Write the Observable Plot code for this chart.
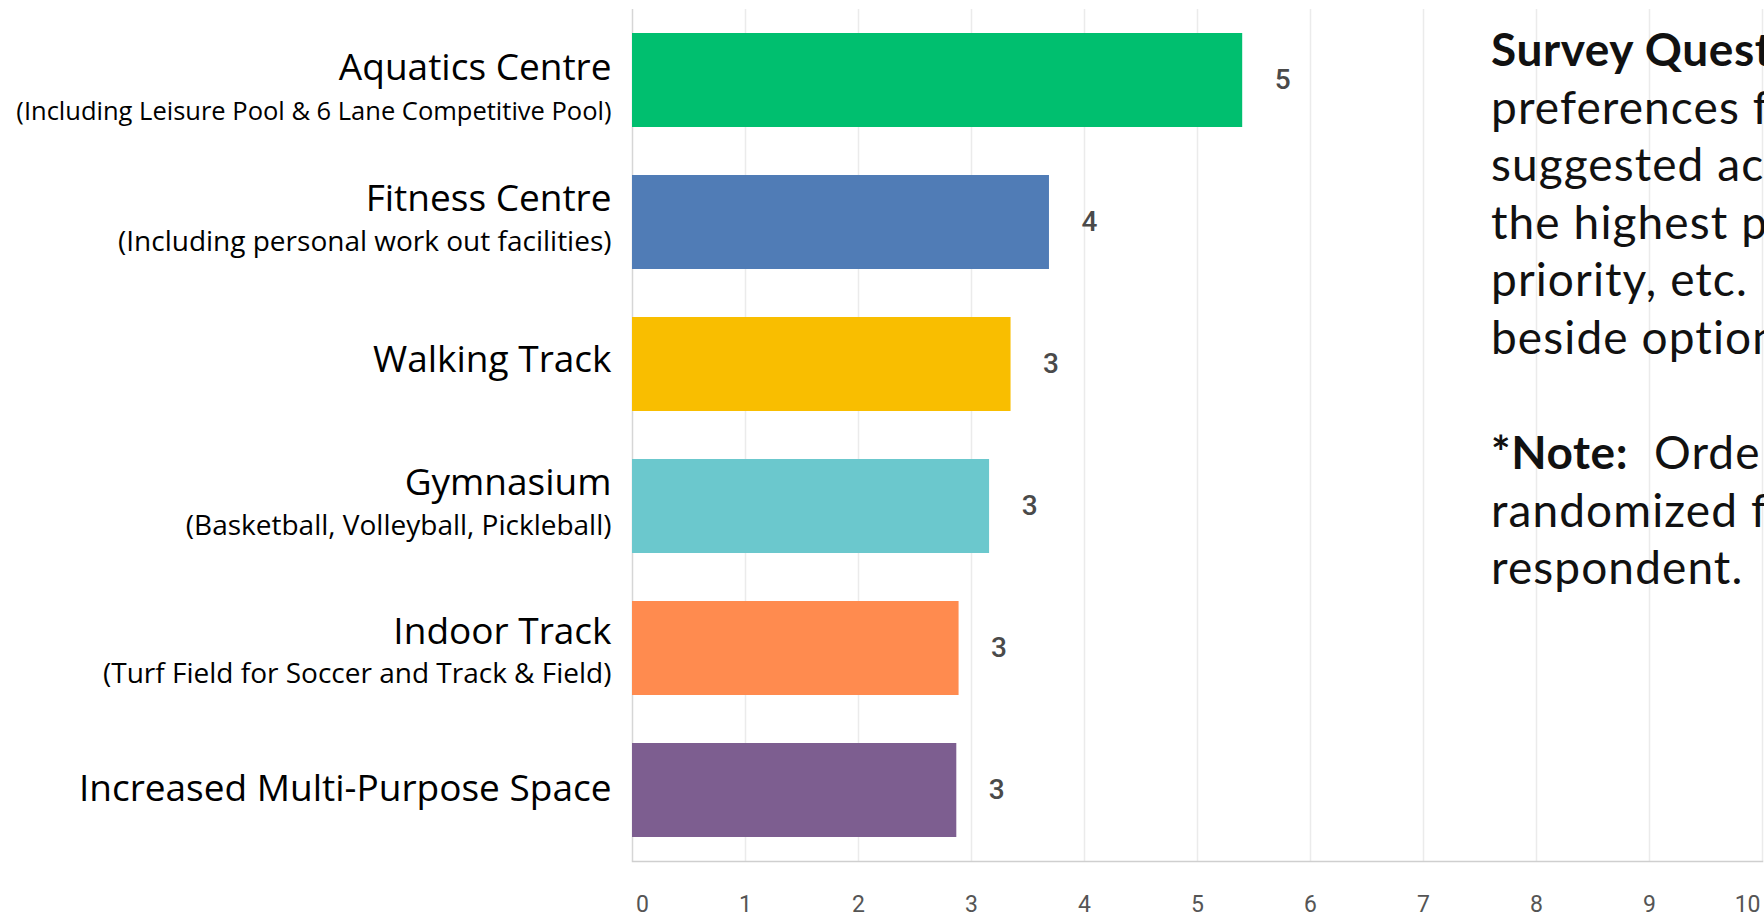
<!DOCTYPE html>
<html><head><meta charset="utf-8">
<script src="https://cdn.jsdelivr.net/npm/d3@7"></script>
<script src="https://cdn.jsdelivr.net/npm/@observablehq/plot@0.6"></script>
<style>
html,body{margin:0;padding:0;background:#fff;overflow:hidden;width:1764px;height:917px}
#wrap{position:relative;width:1764px;height:917px;overflow:hidden}
#chart svg{display:block}
#note{position:absolute;left:1491px;top:20px;width:273px;overflow:hidden;font-family:Lato;font-size:46px;letter-spacing:1.1px;line-height:57.6px;color:#111;white-space:pre}
#note b{font-weight:700;letter-spacing:0.6px}
</style></head><body><div id="wrap"><div id="chart"></div><div id="note"></div></div>
<script>
const categories = ["Aquatics Centre","Fitness Centre","Walking Track","Gymnasium","Indoor Track","Increased Multi-Purpose Space"];
const subtitles = ["(Including Leisure Pool & 6 Lane Competitive Pool)","(Including personal work out facilities)","","(Basketball, Volleyball, Pickleball)","(Turf Field for Soccer and Track & Field)",""];
const scores = [5.40, 3.69, 3.35, 3.16, 2.89, 2.87];
const valueLabels = ["5","4","3","3","3","3"];
const colors = ["#00BF6F","#507CB6","#F9BE00","#6BC8CD","#FF8B4F","#7D5E90"];
const xTicks = [0,1,2,3,4,5,6,7,8,9,10];
// side note as visible in the (cropped) reference
const noteLines = [
  ["Survey Quest", ""],
  ["", "preferences f"],
  ["", "suggested ac"],
  ["", "the highest p"],
  ["", "priority, etc."],
  ["", "beside option"],
  ["", ""],
  ["*Note:", "  Orde"],
  ["", "randomized f"],
  ["", "respondent."]
];

const data = categories.map((c, i) => ({cat: c, sub: subtitles[i], v: scores[i], lab: valueLabels[i], color: colors[i]}));

// slide-overlay label placement tweaks (styling only)
const labelNudge = {"Aquatics Centre": 11, "Indoor Track": 7, "Increased Multi-Purpose Space": 3};
const subSize = {"Aquatics Centre": 25.5};
const labelOpts = {frameAnchor: "left", dx: -21, textAnchor: "end", fontFamily: "Open Sans", fill: "#000"};

const labelMarks = data.flatMap(d => {
  const n = labelNudge[d.cat] || 0;
  if (!d.sub) return [Plot.text([d], {y: "cat", text: "cat", dy: -4 + n, fontSize: 37, ...labelOpts})];
  return [
    Plot.text([d], {y: "cat", text: "cat", dy: -23 + n, fontSize: 37, ...labelOpts}),
    Plot.text([d], {y: "cat", text: "sub", dy: 20 + (d.cat === "Indoor Track" ? n - 1 : n), fontSize: subSize[d.cat] || 28, ...labelOpts})
  ];
});

const axisOpts = {tickSize: 0, tickPadding: 34, fontSize: 23, fill: "#555", fontFamily: "Roboto", label: null};

const plot = Plot.plot({
  width: 1764, height: 917,
  marginLeft: 632, marginRight: 2, marginTop: 9, marginBottom: 56,
  x: {domain: [0, 10], label: null},
  y: {domain: categories, paddingInner: 0.34, paddingOuter: 0.17, axis: null},
  color: {type: "identity"},
  marks: [
    Plot.ruleX(xTicks.filter(d => d > 0), {stroke: "#ebebeb", strokeWidth: 1.5}),
    Plot.ruleX([0], {stroke: "#d6d6d6", strokeWidth: 1.5}),
    Plot.frame({anchor: "bottom", stroke: "#cfcfcf", strokeWidth: 1.5}),
    Plot.barX(data, {x: "v", y: "cat", fill: "color"}),
    Plot.text(data, {x: "v", y: "cat", text: "lab", dx: 40, fill: "#4a4a4a", fontSize: 28, fontWeight: 500, fontFamily: "Roboto"}),
    Plot.axisX({ticks: xTicks.slice(1, -1), ...axisOpts}),
    Plot.axisX({ticks: xTicks.slice(0, 1), dx: 10, ...axisOpts}),
    Plot.axisX({ticks: xTicks.slice(-1), dx: -2, textAnchor: "end", ...axisOpts}),
    ...labelMarks
  ]
});
document.getElementById("chart").appendChild(plot);

const note = document.getElementById("note");
noteLines.forEach(([b, t]) => {
  const div = document.createElement("div");
  if (b) { const el = document.createElement("b"); el.textContent = b; div.appendChild(el); }
  if (t || !b) div.appendChild(document.createTextNode(t || " "));
  note.appendChild(div);
});
</script></body></html>
